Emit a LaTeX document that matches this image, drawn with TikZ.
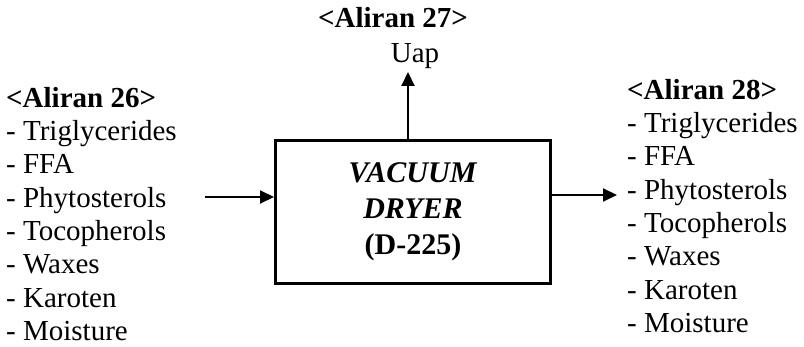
\documentclass[tikz,border=0pt]{standalone}
\usepackage{fontspec}
\setmainfont{Liberation Serif}
\usetikzlibrary{arrows.meta, positioning}

\begin{document}
\begin{tikzpicture}[
    x=1pt, y=1pt,
    unit/.style={rectangle, draw=black, line width=3pt, minimum width=275pt, minimum height=143pt, align=center, font=\fontsize{30}{36}\selectfont\bfseries},
    stream/.style={rectangle, inner sep=0pt, align=left, anchor=north west, font=\fontsize{29}{33.3}\selectfont},
    streamtxt/.style={inner sep=0pt, anchor=base, font=\fontsize{29}{33}\selectfont},
    line/.style={draw=black, line width=2pt, -{Triangle[length=14pt, width=13pt]}}
]
    \useasboundingbox (0,0) rectangle (804,-347);

    % Nodes
    \node [unit] (dryer) at (413,-212) {\textit{VACUUM}\\\textit{DRYER}\\(D-225)};
    \node [stream] (in26) at (6,-87) {\textbf{<Aliran 26>}\\- Triglycerides\\- FFA\\- Phytosterols\\- Tocopherols\\- Waxes\\- Karoten\\- Moisture};
    \node [stream] (out28) at (627,-79) {\textbf{<Aliran 28>}\\- Triglycerides\\- FFA\\- Phytosterols\\- Tocopherols\\- Waxes\\- Karoten\\- Moisture};
    \node [streamtxt] (uap) at (415,-63) {Uap};
    \node [streamtxt] (aliran27) at (393,-28) {\textbf{<Aliran 27>}};

    % Ends of the arrows
    \coordinate (feed) at (205,-197);
    \coordinate (prod) at (617,-195);
    \coordinate (vap) at (408,-72);

    % Paths
    \path [line] (feed) -- (feed -| dryer.west);
    \path [line] (dryer.east |- prod) -- (prod);
    \path [line] (vap |- dryer.north) -- (vap);

\end{tikzpicture}
\end{document}
